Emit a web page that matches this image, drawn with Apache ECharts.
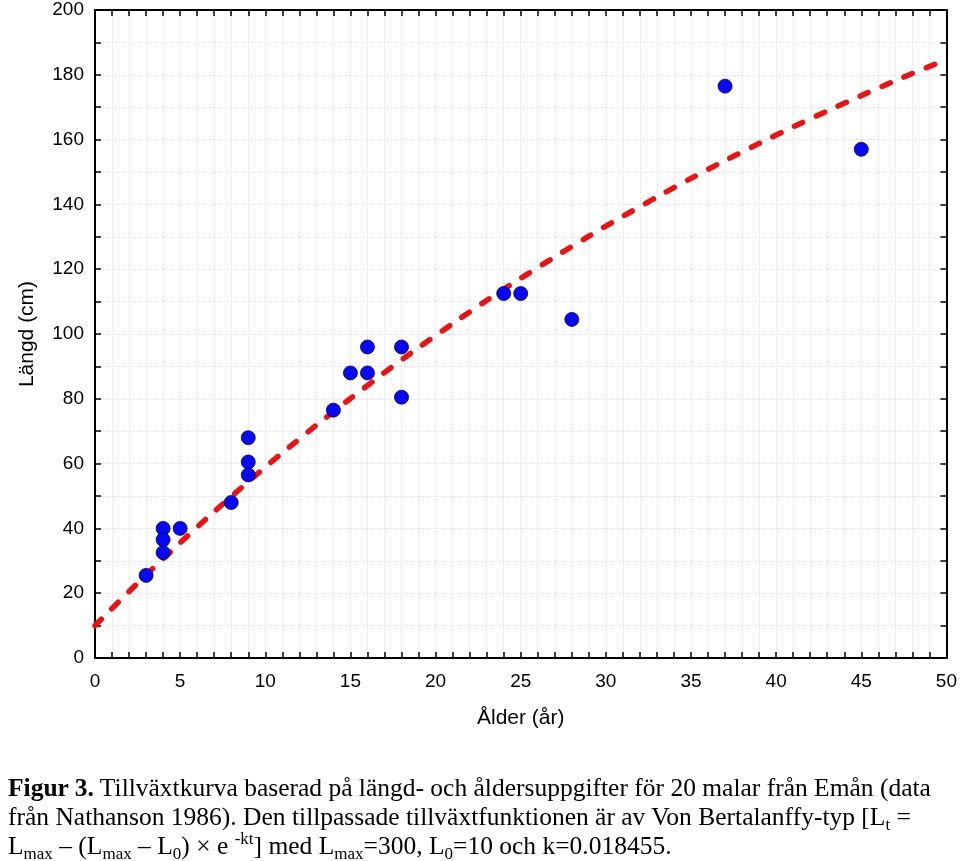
<!DOCTYPE html>
<html>
<head>
<meta charset="utf-8">
<script src="https://cdn.jsdelivr.net/npm/echarts@6/dist/echarts.min.js"></script>
<style>
  html, body { margin: 0; padding: 0; background: #fff; }
  #wrap { position: relative; width: 960px; height: 861px; overflow: hidden; }
  #chart { position: absolute; left: 0; top: 0; width: 960px; height: 861px; }
  .cap { position: absolute; left: 8px; font-family: "Liberation Serif", "Times New Roman", serif;
         font-size: 25.5px; line-height: 25.5px; white-space: nowrap; color: #000; }
  .sb { font-size: 17px; position: relative; top: 5px; }
  .sp { font-size: 17px; position: relative; top: -10px; }
</style>
</head>
<body>
<div id="wrap">
  <div id="chart"></div>
  <div class="cap" style="top:775px"><b>Figur 3.</b> Tillväxtkurva baserad på längd- och åldersuppgifter för 20 malar från Emån (data</div>
  <div class="cap" style="top:804px">från Nathanson 1986). Den tillpassade tillväxtfunktionen är av Von Bertalanffy-typ [L<span class="sb">t</span> =</div>
  <div class="cap" style="top:833px">L<span class="sb">max</span> – (L<span class="sb">max</span> – L<span class="sb">0</span>) × e <span class="sp">-kt</span>] med L<span class="sb">max</span>=300, L<span class="sb">0</span>=10 och k=0.018455.</div>
</div>
<script>
// Observed fish: age (years) and length (cm)
const ages = [3, 4, 4, 4, 5, 8, 9, 9, 9, 14, 15, 16, 16, 18, 18, 24, 25, 28, 37, 45];
const lengths = [25.5, 40, 36.5, 32.5, 40, 48, 68, 60.5, 56.5, 76.5, 88, 96, 88, 96, 80.5, 112.5, 112.5, 104.5, 176.5, 157];

// Fitted growth curve
const curveAges = [0, 2, 4, 6, 8, 10, 12, 14, 16, 18, 20, 22, 24, 26, 28, 30, 32, 34, 36, 38, 40, 42, 44, 46, 48, 50];
const curveLengths = [10, 20.5, 30.6, 40.4, 49.8, 58.9, 67.6, 76.0, 84.1, 92.0, 99.5, 106.8, 113.8, 120.5, 127.0, 133.3, 139.3, 145.2, 150.8, 156.2, 161.4, 166.4, 171.2, 175.9, 180.4, 184.7];

const xName = 'Ålder (år)';
const yName = 'Längd (cm)';

const pts = ages.map((a, i) => [a, lengths[i]]);
const curve = curveAges.map((a, i) => [a, curveLengths[i]]);

const FONT = '"Liberation Sans", Arial, sans-serif';
const axLine = { show: true, onZero: false, lineStyle: { color: '#000', width: 2 } };
const tick = { show: true, inside: true, length: 6, lineStyle: { color: '#000', width: 1.5 } };
const grid = { show: true, lineStyle: { color: '#e0e0e0', type: 'dotted', width: 1 } };

const chart = echarts.init(document.getElementById('chart'), null, { renderer: 'canvas' });
chart.setOption({
  animation: false,
  backgroundColor: '#fff',
  grid: { left: 95, right: 13, top: 10, bottom: 203, containLabel: false },
  xAxis: [
    {
      type: 'value', min: 0, max: 50, interval: 5, position: 'bottom',
      name: xName, nameLocation: 'middle', nameGap: 50,
      nameTextStyle: { fontFamily: FONT, fontSize: 21, color: '#000' },
      axisLine: axLine, axisTick: tick,
      minorTick: { show: true, splitNumber: 5, length: 6, lineStyle: { color: '#000', width: 1.5 } },
      axisLabel: { fontFamily: FONT, fontSize: 19, color: '#000', margin: 14 },
      splitLine: grid, minorSplitLine: grid
    },
    {
      type: 'value', min: 0, max: 50, interval: 5, position: 'top',
      axisLine: axLine, axisTick: tick,
      minorTick: { show: true, splitNumber: 5, length: 6, lineStyle: { color: '#000', width: 1.5 } },
      axisLabel: { show: false }, splitLine: { show: false }
    }
  ],
  yAxis: [
    {
      type: 'value', min: 0, max: 200, interval: 20, position: 'left',
      name: yName, nameLocation: 'middle', nameGap: 57, nameRotate: 90,
      nameTextStyle: { fontFamily: FONT, fontSize: 21, color: '#000' },
      axisLine: axLine, axisTick: tick,
      minorTick: { show: true, splitNumber: 2, length: 6, lineStyle: { color: '#000', width: 1.5 } },
      axisLabel: { fontFamily: FONT, fontSize: 19, color: '#000', margin: 11 },
      splitLine: grid, minorSplitLine: grid
    },
    {
      type: 'value', min: 0, max: 200, interval: 20, position: 'right',
      axisLine: axLine, axisTick: tick,
      minorTick: { show: true, splitNumber: 2, length: 6, lineStyle: { color: '#000', width: 1.5 } },
      axisLabel: { show: false }, splitLine: { show: false }
    }
  ],
  series: [
    {
      type: 'line', data: curve, xAxisIndex: 0, yAxisIndex: 0,
      showSymbol: false, smooth: true, z: 3,
      lineStyle: { color: '#f01010', width: 5.5, type: [9, 15], cap: 'round' }
    },
    {
      type: 'scatter', data: pts, xAxisIndex: 0, yAxisIndex: 0,
      symbol: 'circle', symbolSize: 14, z: 4,
      itemStyle: { color: '#0808f2', borderColor: '#000066', borderWidth: 0.8, opacity: 1 }
    }
  ]
});
</script>
</body>
</html>
